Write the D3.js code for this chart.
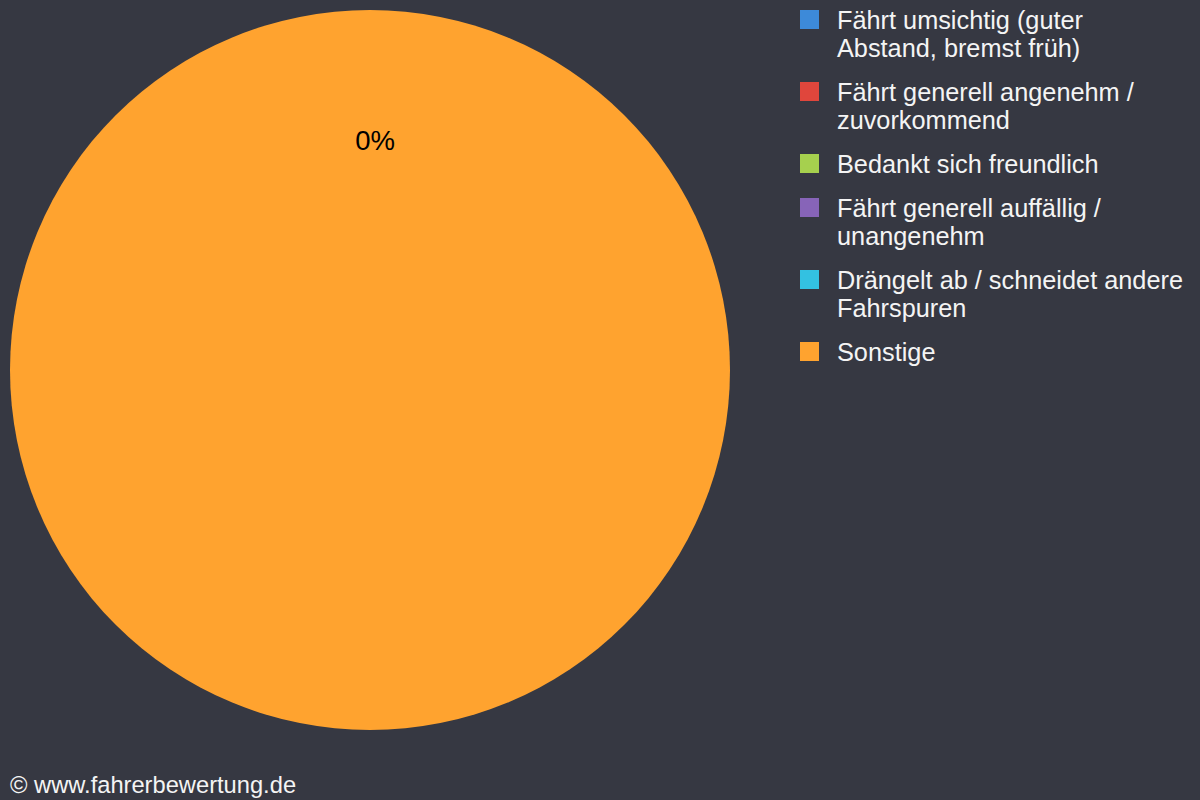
<!DOCTYPE html>
<html>
<head>
<meta charset="utf-8">
<script src="https://cdn.jsdelivr.net/npm/d3@7"></script>
<style>
  html, body { margin: 0; padding: 0; background: #363842; }
  svg { display: block; font-family: "Liberation Sans", Arial, sans-serif; }
</style>
</head>
<body>
<div id="chart"></div>
<script>
var width = 1200,
    height = 800;

// Chart data
var categories = [
  "Fährt umsichtig (guter Abstand, bremst früh)",
  "Fährt generell angenehm / zuvorkommend",
  "Bedankt sich freundlich",
  "Fährt generell auffällig / unangenehm",
  "Drängelt ab / schneidet andere Fahrspuren",
  "Sonstige"
];
var values = [0, 0, 0, 0, 0, 1];
var colors = ["#3d8ad9", "#e0463c", "#a6d04e", "#8764b8", "#33c1e1", "#ffa32f"];
var sliceLabels = ["0%"];
var footer = "\u00a9 www.fahrerbewertung.de";

var cx = 370, cy = 370, radius = 360;

var svg = d3.select("#chart").append("svg")
    .attr("width", width)
    .attr("height", height);

svg.append("rect")
    .attr("width", width)
    .attr("height", height)
    .attr("fill", "#363842");

var pie = d3.pie().sort(null).value(function(d) { return d; });
var arcs = pie(values);

var arc = d3.arc().innerRadius(0).outerRadius(radius);
var labelArc = d3.arc().innerRadius(radius * 0.64).outerRadius(radius * 0.64);

var g = svg.append("g")
    .attr("transform", "translate(" + cx + "," + cy + ")");

g.selectAll("path.slice")
    .data(arcs)
  .enter().append("path")
    .attr("class", "slice")
    .attr("d", arc)
    .attr("fill", function(d, i) { return colors[i]; });

// percentage label(s), placed at slice centroid
g.selectAll("text.pct")
    .data(sliceLabels)
  .enter().append("text")
    .attr("class", "pct")
    .attr("x", function(d, i) { return labelArc.centroid(arcs[i])[0] + 5; })
    .attr("y", function(d, i) { return labelArc.centroid(arcs[i])[1] + 10; })
    .attr("text-anchor", "middle")
    .attr("font-size", 27.5)
    .attr("fill", "#000")
    .text(function(d) { return d; });

// Legend
var legend = svg.append("g")
    .attr("transform", "translate(800,10)");

var lineH = 28, itemGap = 16, maxW = 348;
var yPos = 0;

categories.forEach(function(name, i) {
  var item = legend.append("g")
      .attr("transform", "translate(0," + yPos + ")");
  item.append("rect")
      .attr("width", 19)
      .attr("height", 19)
      .attr("fill", colors[i]);
  var text = item.append("text")
      .attr("x", 37)
      .attr("font-size", 25.3)
      .attr("fill", "#f4f4f4");

  // word wrap
  var words = name.split(" ");
  var line = [];
  var lines = 0;
  var tspan = text.append("tspan").attr("x", 37).attr("y", 18.5);
  words.forEach(function(w) {
    line.push(w);
    tspan.text(line.join(" "));
    if (tspan.node().getComputedTextLength() > maxW && line.length > 1) {
      line.pop();
      tspan.text(line.join(" "));
      line = [w];
      lines++;
      tspan = text.append("tspan").attr("x", 37).attr("y", 18.5 + lines * lineH).text(w);
    }
  });
  yPos += (lines + 1) * lineH + itemGap;
});

svg.append("text")
    .attr("x", 10)
    .attr("y", 793)
    .attr("font-size", 23.7)
    .attr("fill", "#f4f4f4")
    .text(footer);
</script>
</body>
</html>
